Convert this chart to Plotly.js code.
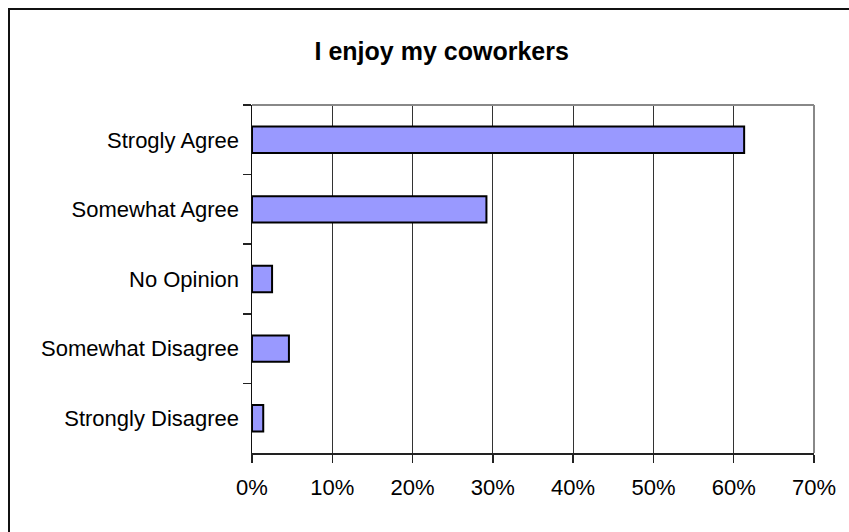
<!DOCTYPE html>
<html>
<head>
<meta charset="utf-8">
<script src="https://cdn.plot.ly/plotly-3.0.1.min.js"></script>
<style>
  html, body { margin: 0; padding: 0; background: #fff; }
  #wrap { position: relative; width: 849px; height: 532px; overflow: hidden; }
  #chart { position: absolute; left: 0; top: 0; width: 849px; height: 532px; }
  #frame { position: absolute; left: 8px; top: 8px; width: 900px; height: 600px;
           border-left: 2px solid #111; border-top: 2px solid #111; pointer-events: none; }
</style>
</head>
<body>
<div id="wrap">
  <div id="chart"></div>
  <div id="frame"></div>
</div>
<script>
const titleText = "I enjoy my coworkers";
const categories = ["Strogly Agree", "Somewhat Agree", "No Opinion", "Somewhat Disagree", "Strongly Disagree"];
const values = [61.3, 29.2, 2.5, 4.6, 1.4];
const xTickValues = [0, 10, 20, 30, 40, 50, 60, 70];
const xTickLabels = ["0%", "10%", "20%", "30%", "40%", "50%", "60%", "70%"];

const trace = {
  type: "bar",
  orientation: "h",
  y: categories,
  x: values,
  marker: { color: "#9999FF", line: { color: "#000000", width: 2 } },
  hoverinfo: "skip"
};

const layout = {
  width: 849,
  height: 532,
  margin: { l: 252, r: 35, t: 105, b: 79, pad: 0 },
  paper_bgcolor: "#ffffff",
  plot_bgcolor: "#ffffff",
  font: { family: "Liberation Sans, Arial, sans-serif", size: 22, color: "#000" },
  title: {
    text: titleText,
    font: { family: "Liberation Sans, Arial, sans-serif", size: 25, color: "#000", weight: "bold" },
    x: 441.7 / 849, xanchor: "center", xref: "container",
    y: 1 - 51 / 532, yanchor: "middle", yref: "container"
  },
  bargap: 0.62,
  showlegend: false,
  xaxis: {
    range: [0, 70],
    tickmode: "array",
    tickvals: xTickValues,
    ticktext: xTickLabels,
    showgrid: true,
    gridcolor: "#333",
    gridwidth: 1,
    zeroline: false,
    showline: true,
    linecolor: "#222",
    linewidth: 1.5,
    ticks: "outside",
    ticklen: 8,
    tickwidth: 1.5,
    tickcolor: "#222",
    ticklabelstandoff: 6,
    fixedrange: true
  },
  yaxis: {
    type: "category",
    autorange: "reversed",
    showgrid: false,
    zeroline: false,
    showline: true,
    linecolor: "#111",
    linewidth: 1.5,
    ticks: "outside",
    tickson: "boundaries",
    ticklen: 8,
    tickwidth: 1.5,
    tickcolor: "#222",
    ticklabelstandoff: 7,
    fixedrange: true
  },
  shapes: [
    { type: "line", xref: "paper", yref: "paper", x0: 0, x1: 1, y0: 1, y1: 1, line: { color: "#888", width: 2 } },
    { type: "line", xref: "paper", yref: "paper", x0: 1, x1: 1, y0: 0, y1: 1, line: { color: "#888", width: 2 } }
  ]
};

Plotly.newPlot("chart", [trace], layout, { displayModeBar: false, staticPlot: true });
</script>
</body>
</html>
